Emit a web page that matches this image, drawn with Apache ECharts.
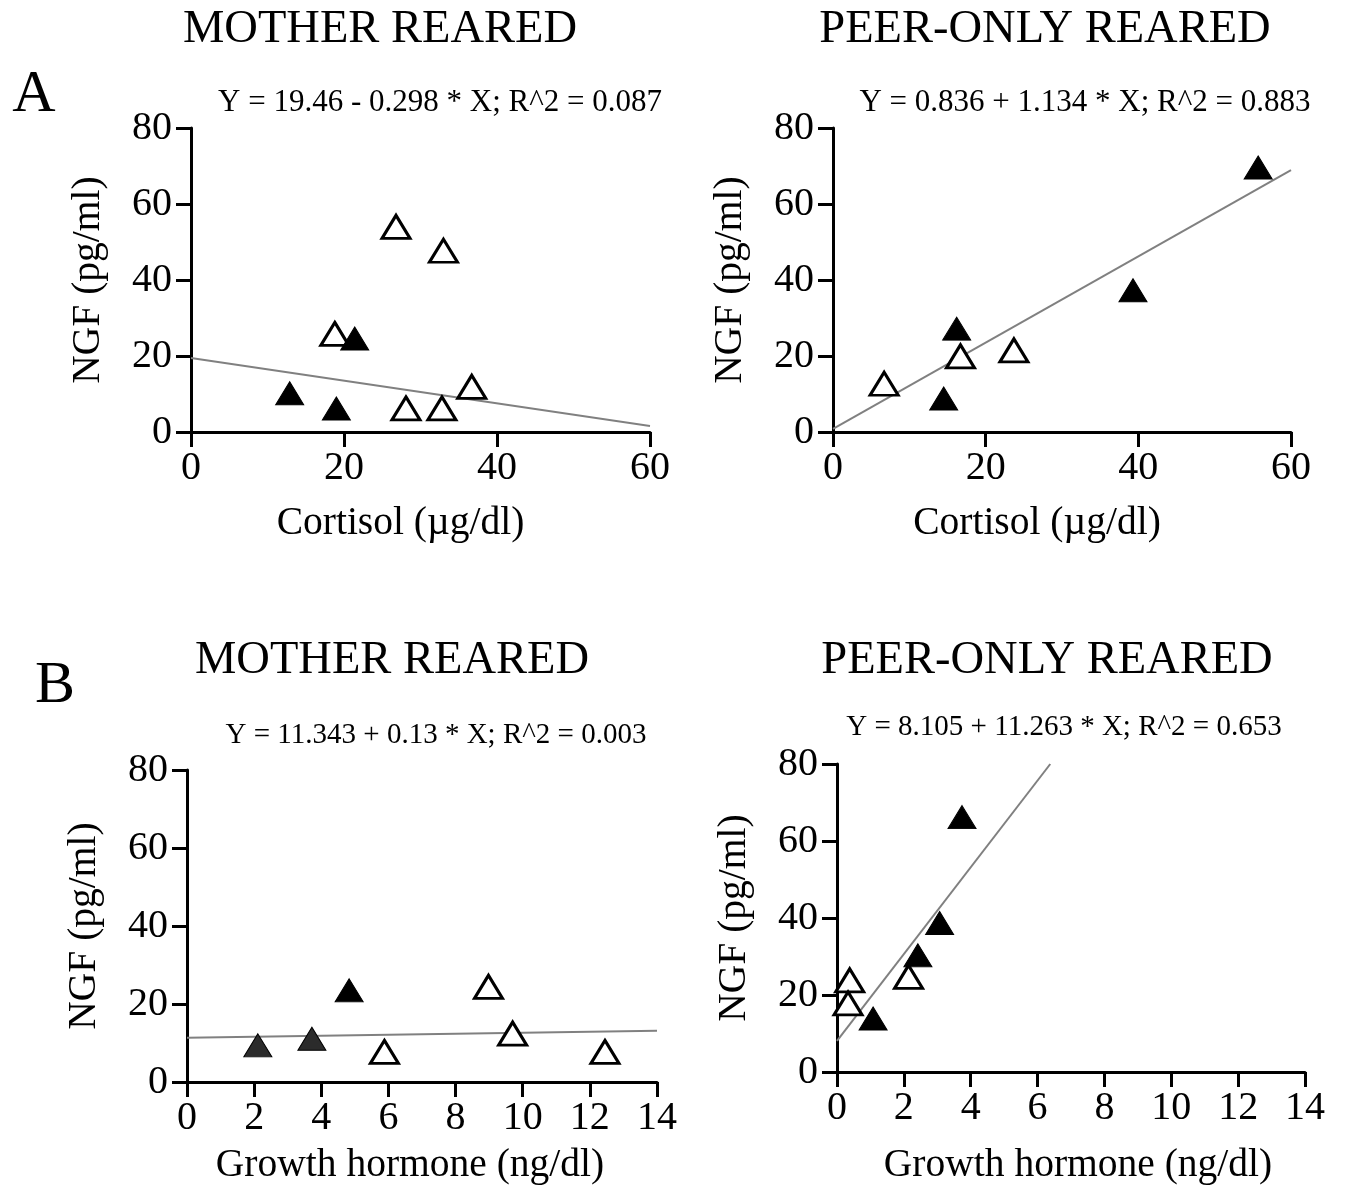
<!DOCTYPE html>
<html>
<head>
<meta charset="utf-8">
<script src="https://cdn.jsdelivr.net/npm/echarts@6/dist/echarts.min.js"></script>
<style>
html,body{margin:0;padding:0;background:#fff;}
#chart{width:1348px;height:1189px;}
</style>
</head>
<body>
<div id="chart"></div>
<script>
// ---- Data ----
// Panel A: NGF vs Cortisol
const aMotherOpen   = [[18.8,25.8],[26.8,54.0],[33.0,47.7],[36.7,11.9],[28.1,6.2],[32.8,6.2]];
const aMotherFilled = [[12.9,10.2],[19.0,6.2],[21.4,24.6]];
const aMotherLine   = [[0,19.46],[60,1.58]];
const aPeerOpen     = [[6.7,12.7],[16.7,19.9],[23.7,21.5]];
const aPeerFilled   = [[16.2,27.2],[14.5,8.8],[39.3,37.3],[55.7,69.6]];
const aPeerLine     = [[0,0.836],[60,68.9]];
// Panel B: NGF vs Growth hormone
const bMotherOpen   = [[5.88,7.7],[8.98,24.4],[9.70,12.4],[12.45,7.7]];
const bMotherFilled = [[4.83,23.5]];
const bMotherDark   = [[2.11,9.4],[3.72,11.1]];
const bMotherLine   = [[0,11.343],[14,13.16]];
const bPeerOpen     = [[0.38,23.8],[0.33,17.8],[2.14,24.7]];
const bPeerFilled   = [[1.08,13.9],[2.42,30.3],[3.07,38.7],[3.74,66.2]];
const bPeerLine     = [[0,8.105],[6.38,80]];

const titles = ['MOTHER REARED','PEER-ONLY REARED','MOTHER REARED','PEER-ONLY REARED'];
const equations = [
  'Y = 19.46 - 0.298 * X; R^2 = 0.087',
  'Y = 0.836 + 1.134 * X; R^2 = 0.883',
  'Y = 11.343 + 0.13 * X; R^2 = 0.003',
  'Y = 8.105 + 11.263 * X; R^2 = 0.653'
];
const xNames = ['Cortisol (µg/dl)','Cortisol (µg/dl)','Growth hormone (ng/dl)','Growth hormone (ng/dl)'];
const yName = 'NGF (pg/ml)';
const panelLetters = ['A','B'];

// ---- Layout ----
const FONT = '"Liberation Serif","Times New Roman",serif';
const grids = [
  {left:191, top:128, width:459, height:304},
  {left:833, top:128, width:458, height:304},
  {left:187, top:770, width:470, height:312},
  {left:837, top:764, width:468, height:308}
];
const xRanges = [[0,60,20],[0,60,20],[0,14,2],[0,14,2]];
const xNameGaps = [72,72,64,74];
const xNameShift = [40,50,24,-14];

const chart = echarts.init(document.getElementById('chart'), null, {renderer:'canvas'});

const axisCommon = {
  axisLine:{show:true, onZero:false, lineStyle:{color:'#000', width:3}},
  axisTick:{show:true, length:15, lineStyle:{color:'#000', width:3}},
  splitLine:{show:false},
};

const xAxes = grids.map((g,i)=>Object.assign({}, axisCommon, {
  type:'value', gridIndex:i, min:xRanges[i][0], max:xRanges[i][1], interval:xRanges[i][2],
  axisLabel:{color:'#000', fontFamily:FONT, fontSize:40, margin:16},
  name:xNames[i], nameLocation:'middle', nameGap:xNameGaps[i],
  nameTextStyle:{color:'#000', fontFamily:FONT, fontSize:39.5,
    padding: xNameShift[i] >= 0 ? [0, xNameShift[i], 0, 0] : [0, 0, 0, -xNameShift[i]]}
}));
const yAxes = grids.map((g,i)=>Object.assign({}, axisCommon, {
  type:'value', gridIndex:i, min:0, max:80, interval:20,
  axisLabel:{color:'#000', fontFamily:FONT, fontSize:40, margin:19},
  name:yName, nameLocation:'middle', nameGap:82, nameRotate:90,
  nameTextStyle:{color:'#000', fontFamily:FONT, fontSize:39.5}
}));

function lineSeries(i, data){
  return {type:'line', xAxisIndex:i, yAxisIndex:i, data:data, symbol:'none',
    lineStyle:{color:'#808080', width:2}, z:1, silent:true, animation:false};
}
function scatterSeries(i, data, fill){
  return {type:'scatter', xAxisIndex:i, yAxisIndex:i, data:data, symbol:'triangle',
    symbolSize:[28,23],
    itemStyle:{color:fill, opacity:1, borderColor:'#000', borderWidth: fill==='#fff'?3:1},
    z:3, animation:false};
}

const series = [
  lineSeries(0,aMotherLine), scatterSeries(0,aMotherOpen,'#fff'), scatterSeries(0,aMotherFilled,'#000'),
  lineSeries(1,aPeerLine), scatterSeries(1,aPeerOpen,'#fff'), scatterSeries(1,aPeerFilled,'#000'),
  lineSeries(2,bMotherLine), scatterSeries(2,bMotherOpen,'#fff'), scatterSeries(2,bMotherFilled,'#000'), scatterSeries(2,bMotherDark,'#2b2b2b'),
  lineSeries(3,bPeerLine), scatterSeries(3,bPeerOpen,'#fff'), scatterSeries(3,bPeerFilled,'#000')
];

const titlePos = [[380,30],[1045,30],[392,661],[1047,661]];
const eqPos = [[440,103],[1085,103],[436,735],[1064,727]];
const eqSize = [31,31,29,29];
const letterPos = [[34,95],[55,686]];

const graphics = [];
titles.forEach((t,i)=>graphics.push({type:'text', x:titlePos[i][0], y:titlePos[i][1],
  style:{text:t, fontFamily:FONT, fontSize:46.5, fill:'#000', textAlign:'center', textVerticalAlign:'middle'}}));
equations.forEach((t,i)=>graphics.push({type:'text', x:eqPos[i][0], y:eqPos[i][1],
  style:{text:t, fontFamily:FONT, fontSize:eqSize[i], fill:'#000', textAlign:'center', textVerticalAlign:'middle'}}));
panelLetters.forEach((t,i)=>graphics.push({type:'text', x:letterPos[i][0], y:letterPos[i][1],
  style:{text:t, fontFamily:FONT, fontSize:60, fill:'#000', textAlign:'center', textVerticalAlign:'middle'}}));

chart.setOption({
  animation:false,
  backgroundColor:'#fff',
  grid: grids.map(g=>Object.assign({containLabel:false}, g)),
  xAxis: xAxes,
  yAxis: yAxes,
  series: series,
  graphic: graphics
});
</script>
</body>
</html>
